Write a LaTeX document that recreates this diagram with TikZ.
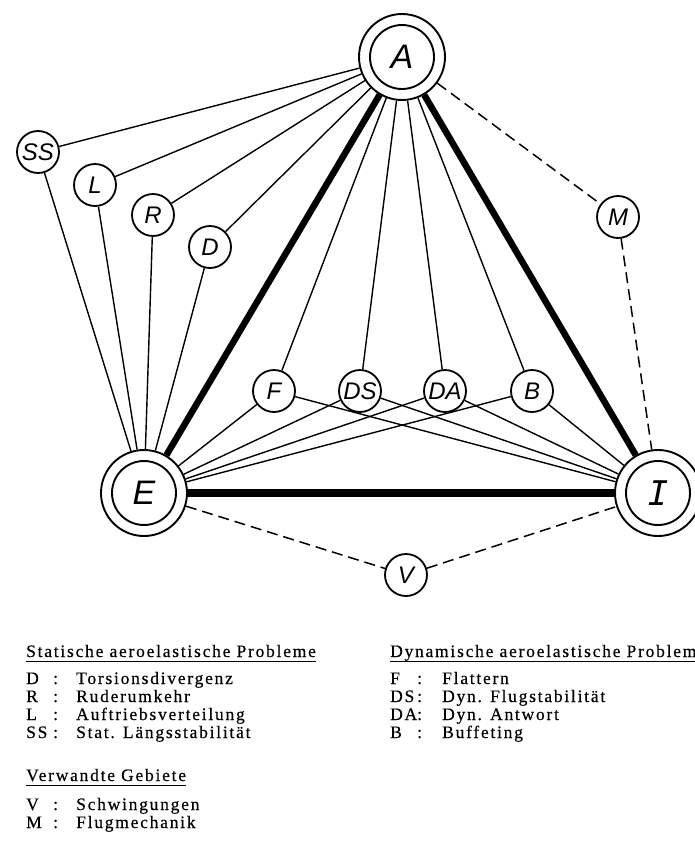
\documentclass[tikz,border=0pt]{standalone}
\usepackage{fontspec}
\setmainfont{Liberation Serif}
\newfontfamily\circfont{Liberation Sans}
\newfontfamily\monofont{DejaVu Sans Mono}
\newfontfamily\legfont{Liberation Serif}[LetterSpace=10, BoldFont=Liberation Serif, BoldFeatures={FakeBold=0.4}]
\begin{document}
\begin{tikzpicture}[x=1pt,y=-1pt,
  small/.style={circle,draw,line width=1.8pt,minimum size=42pt,inner sep=0pt,font=\circfont\itshape\fontsize{24}{24}\selectfont},
  big/.style={circle,draw,line width=1.9pt,minimum size=86pt,inner sep=0pt,font=\circfont\itshape\fontsize{34}{34}\selectfont},
  ln/.style={line width=1.4pt},
  thk/.style={line width=6.5pt},
  thkk/.style={line width=8.5pt},
  dsh/.style={line width=1.5pt,dash pattern=on 11pt off 6pt},
  leg/.style={anchor=base west,inner sep=0pt,font=\legfont\bfseries\fontsize{17.5}{17.5}\selectfont},
  uline/.style={line width=1.3pt}]
\useasboundingbox (0,0) rectangle (695,844);
% main nodes
\node[big] (A) at (402,57) {A};
\node[big] (E) at (144,493) {E};
\node[big,font=\monofont\itshape\fontsize{34}{34}\selectfont] (I) at (658,493) {I};
\foreach \n in {A,E,I} \draw[line width=1.9pt] (\n.center) circle (32pt);
% small nodes
\node[small] (SS) at (38,152) {SS};
\node[small] (L) at (95,185) {L};
\node[small] (R) at (153,215) {R};
\node[small] (D) at (210,247) {D};
\node[small] (M) at (618,217) {M};
\node[small] (F) at (274,391) {F};
\node[small] (DS) at (360,391) {DS};
\node[small] (DA) at (445,391) {DA};
\node[small] (B) at (532,391) {B};
\node[small] (V) at (406,575) {V};
% connectors
\foreach \n in {SS,L,R,D,F,DS,DA,B} \draw[ln] (A) -- (\n);
\foreach \n in {SS,L,R,D,F,DS,DA,B} \draw[ln] (E) -- (\n);
\foreach \n in {F,DS,DA,B} \draw[ln] (I) -- (\n);
\draw[thk] (A) -- (E);
\draw[thk] (A) -- (I);
\draw[thkk] (E) -- (I);
\draw[dsh] (A) -- (M);
\draw[dsh] (M) -- (I);
\draw[dsh] (E) -- (V);
\draw[dsh] (V) -- (I);
% legend left
\node[leg] (t1) at (26,657) {Statische aeroelastische Probleme};
\draw[uline] ([yshift=-4.5pt]t1.base west) -- ([yshift=-4.5pt]t1.base east);
\node[leg] (kD) at (26,684) {D};   \node[leg] (cD) at (53,684) {:};   \node[leg] (xD) at (76,684) {Torsionsdivergenz};
\node[leg] (kR) at (26,702) {R};   \node[leg] (cR) at (53,702) {:};   \node[leg] (xR) at (76,702) {Ruderumkehr};
\node[leg] (kL) at (26,720) {L};   \node[leg] (cL) at (53,720) {:};   \node[leg] (xL) at (76,720) {Auftriebsverteilung};
\node[leg] (kSS) at (26,738) {SS}; \node[leg] (cSS) at (53,738) {:}; \node[leg] (xSS) at (76,738) {Stat. Längsstabilität};
\node[leg] (t3) at (26,781) {Verwandte Gebiete};
\draw[uline] ([yshift=-4.5pt]t3.base west) -- ([yshift=-4.5pt]t3.base east);
\node[leg] (kV) at (26,810) {V};   \node[leg] (cV) at (53,810) {:};   \node[leg] (xV) at (76,810) {Schwingungen};
\node[leg] (kM) at (26,828) {M};   \node[leg] (cM) at (53,828) {:};   \node[leg] (xM) at (76,828) {Flugmechanik};
% legend right
\node[leg] (t2) at (390,657) {Dynamische aeroelastische Probleme};
\draw[uline] ([yshift=-4.5pt]t2.base west) -- ([yshift=-4.5pt]t2.base east);
\node[leg] (kF) at (390,684) {F};   \node[leg] (cF) at (417,684) {:};   \node[leg] (xF) at (442,684) {Flattern};
\node[leg] (kDS) at (390,702) {DS}; \node[leg] (cDS) at (417,702) {:}; \node[leg] (xDS) at (442,702) {Dyn. Flugstabilität};
\node[leg] (kDA) at (390,720) {DA}; \node[leg] (cDA) at (417,720) {:}; \node[leg] (xDA) at (442,720) {Dyn. Antwort};
\node[leg] (kB) at (390,738) {B};   \node[leg] (cB) at (417,738) {:};   \node[leg] (xB) at (442,738) {Buffeting};
\end{tikzpicture}
\end{document}
